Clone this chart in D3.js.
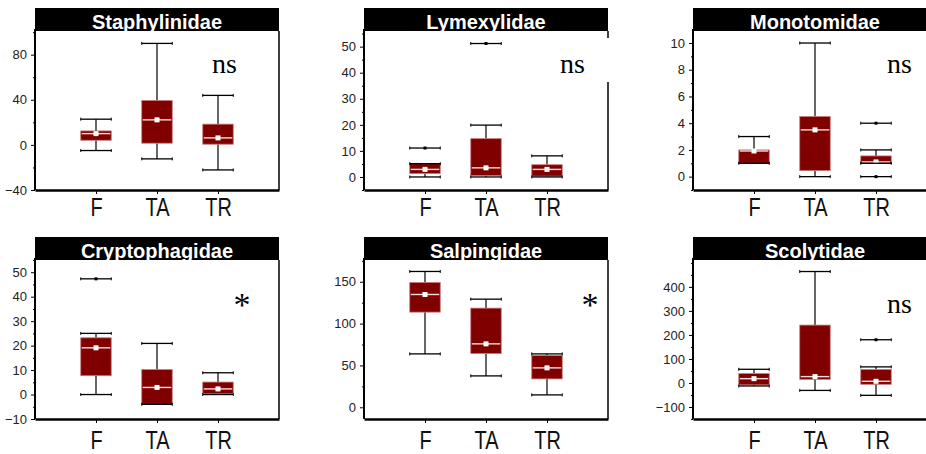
<!DOCTYPE html>
<html>
<head>
<meta charset="utf-8">
<script src="https://cdn.jsdelivr.net/npm/d3@7"></script>
<style>
  body { margin: 0; background: #fff; }
  text { font-family: Arial, "Liberation Sans", sans-serif; }
</style>
</head>
<body>
<div id="chart"></div>
<script>
// groups and panels
const groups = ["F", "TA", "TR"];
const families = ["Staphylinidae", "Lymexylidae", "Monotomidae", "Cryptophagidae", "Salpingidae", "Scolytidae"];
const signif = ["ns", "ns", "ns", "*", "*", "ns"];

// box stats per family, one value per group (F, TA, TR)
const whiskerLow  = [[-5, -12.4, -22.2], [0, 0, 0], [1, 0, 1], [0, -4, 0], [63.8, 37.5, 14.8], [-12.5, -31, -51.5]];
const q1          = [[4.1, 1.5, 0.6], [1.3, 0.5, 0.3], [1, 0.45, 1], [7.7, -4, 0.3], [113.7, 64.2, 33.9], [-8, 15, -5.6]];
const median      = [[10, 22.2, 6.2], [2.9, 3.5, 2.9], [1.92, 3.5, 1.1], [19.1, 2.9, 2.3], [134.8, 75.8, 47.1], [18, 26.5, 7]];
const q3          = [[12.4, 39.4, 18.4], [5.1, 14.7, 4.7], [2, 4.5, 1.55], [23.2, 10.2, 5.1], [149.2, 118.5, 61.8], [39, 241, 56]];
const whiskerHigh = [[22.8, 90, 43.9], [5.1, 19.9, 8.1], [3, 10, 2], [25, 20.9, 8.9], [162.3, 129.2, 63.8], [57, 464, 67]];
const outliers    = [[[], [], []], [[11.1], [51.2], []], [[], [], [4, 0]], [[47.3], [], []], [[], [], []], [[], [], [180]]];

// y axes
const yDomains = [[-40, 101], [-5, 56], [-1, 10.9], [-10, 55], [-14, 176], [-150, 512]];
const yTicks = [[-40, 0, 40, 80], [0, 10, 20, 30, 40, 50], [0, 2, 4, 6, 8, 10],
                [-10, 0, 10, 20, 30, 40, 50], [0, 50, 100, 150], [-100, 0, 100, 200, 300, 400]];
const yMinorStep = [20, 5, 1, 5, 25, 50];

// layout
const panelLeft = [35, 364, 693];
const panelTop = [8, 237];
const labelDrop = [26, 30];
const annotPos = [[177, 65, "start", 28], [196, 65, "start", 28], [194, 65, "start", 28],
                  [207, 79, "middle", 34], [226, 79, "middle", 34], [194, 76, "start", 28]];
const pw = 244, headH = 23, ph = 159;

const svg = d3.select("#chart").append("svg")
  .attr("width", 926).attr("height", 454);

const x = d3.scalePoint().domain(groups).range([0, pw]).padding(1);
const bw = x.step() * 0.5;

families.forEach((fam, i) => {
  const col = i % 3, row = Math.floor(i / 3);
  const g = svg.append("g").attr("transform", `translate(${panelLeft[col]},${panelTop[row]})`);

  // header (title gets its descenders hidden by the plot area)
  g.append("rect").attr("width", pw).attr("height", headH).attr("fill", "#000");
  g.append("text").attr("x", pw / 2).attr("y", headH - 2)
    .attr("text-anchor", "middle").attr("fill", "#fff")
    .attr("font-size", 20).attr("font-weight", "bold").text(fam);
  g.append("rect").attr("y", headH).attr("width", pw).attr("height", ph).attr("fill", "#fff");

  const y = d3.scaleLinear().domain(yDomains[i]).range([headH + ph, headH]);

  // minor ticks
  const [d0, d1] = yDomains[i];
  const minor = d3.range(Math.ceil(d0 / yMinorStep[i]) * yMinorStep[i], d1 + 0.001, yMinorStep[i])
    .filter(v => !yTicks[i].includes(v));
  g.append("g").call(d3.axisLeft(y).tickValues(minor).tickSize(2).tickFormat(""))
    .call(a => a.select(".domain").remove());

  const ya = g.append("g").call(d3.axisLeft(y).tickValues(yTicks[i]).tickSize(4).tickPadding(4));
  ya.select(".domain").remove();
  ya.selectAll("text").attr("font-size", 13).attr("fill", "#222")
    .style("font-family", "Arial, 'Liberation Sans', sans-serif");

  // frame
  g.append("line").attr("x1", pw).attr("x2", pw).attr("y1", headH).attr("y2", headH + ph)
    .attr("stroke", "#000").attr("stroke-width", 1.5);
  g.append("line").attr("x1", 0).attr("x2", 0).attr("y1", headH - 2).attr("y2", headH + ph)
    .attr("stroke", "#000").attr("stroke-width", 2);

  const xa = g.append("g").attr("transform", `translate(0,${headH + ph})`)
    .call(d3.axisBottom(x).tickSize(4).tickSizeOuter(0));
  xa.select(".domain").attr("stroke-width", 2.5);
  xa.selectAll("text").attr("font-size", 20).attr("fill", "#111")
    .style("font-family", "Arial, 'Liberation Sans', sans-serif")
    .attr("dy", null).attr("y", labelDrop[row] / 1.3)
    .attr("transform", "scale(1,1.3)");

  // boxes
  groups.forEach((grp, j) => {
    const cx = x(grp);
    const b = g.append("g");
    b.append("line").attr("x1", cx).attr("x2", cx)
      .attr("y1", y(whiskerHigh[i][j])).attr("y2", y(q3[i][j]))
      .attr("stroke", "#000").attr("stroke-width", 1.2);
    b.append("line").attr("x1", cx).attr("x2", cx)
      .attr("y1", y(q1[i][j])).attr("y2", y(whiskerLow[i][j]))
      .attr("stroke", "#000").attr("stroke-width", 1.2);
    b.append("rect").attr("x", cx - bw / 2).attr("width", bw)
      .attr("y", y(q3[i][j])).attr("height", Math.max(1, y(q1[i][j]) - y(q3[i][j])))
      .attr("fill", "#800000").attr("stroke", "#c77b7b").attr("stroke-width", 0.8);
    b.append("line").attr("x1", cx - bw / 2 + 1).attr("x2", cx + bw / 2 - 1)
      .attr("y1", y(median[i][j])).attr("y2", y(median[i][j]))
      .attr("stroke", "#f4dede").attr("stroke-width", 1.4);
    b.append("rect").attr("x", cx - 2.5).attr("y", y(median[i][j]) - 2.5)
      .attr("width", 5).attr("height", 5).attr("fill", "#fff");

    const cap = v => {
      const cy = y(v);
      b.append("line").attr("x1", cx - bw / 2).attr("x2", cx + bw / 2)
        .attr("y1", cy).attr("y2", cy).attr("stroke", "#000").attr("stroke-width", 1.3);
      [cx - bw / 2, cx + bw / 2].forEach(ex => b.append("line")
        .attr("x1", ex).attr("x2", ex).attr("y1", cy - 1.5).attr("y2", cy + 1.5)
        .attr("stroke", "#000").attr("stroke-width", 1));
    };
    cap(whiskerHigh[i][j]);
    cap(whiskerLow[i][j]);
    outliers[i][j].forEach(v => {
      cap(v);
      b.append("rect").attr("x", cx - 1.5).attr("y", y(v) - 1.5)
        .attr("width", 3).attr("height", 3).attr("fill", "#000");
    });
  });

  // significance label
  const [ax, ay, anchor, fs] = annotPos[i];
  if (i === 1) {
    g.append("rect").attr("x", 184).attr("y", 30).attr("width", 66).attr("height", 44).attr("fill", "#fff");
  }
  g.append("text").attr("x", ax).attr("y", ay).attr("text-anchor", anchor)
    .style("font-family", "'Times New Roman', 'Liberation Serif', serif")
    .attr("font-size", fs).attr("fill", "#000").text(signif[i]);
});
</script>
</body>
</html>
